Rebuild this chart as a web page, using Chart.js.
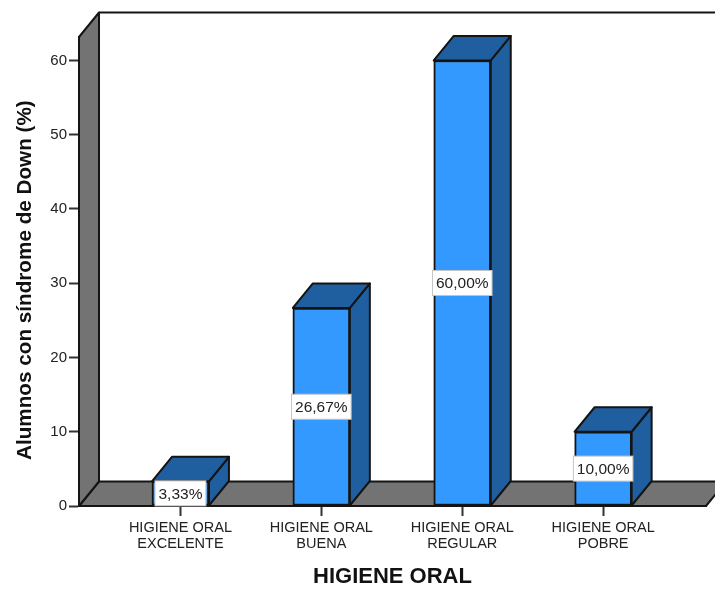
<!DOCTYPE html>
<html>
<head>
<meta charset="utf-8">
<script src="https://cdn.jsdelivr.net/npm/chart.js@4"></script>
<style>
    html, body { margin: 0; padding: 0; background: #fff; }
    canvas { display: block; }
</style>
</head>
<body>
<canvas id="chart" width="715" height="590"></canvas>
<script>
// datos
const categories = [
    ['HIGIENE ORAL', 'EXCELENTE'],
    ['HIGIENE ORAL', 'BUENA'],
    ['HIGIENE ORAL', 'REGULAR'],
    ['HIGIENE ORAL', 'POBRE']
];
const values = [3.33, 26.67, 60, 10];
const valueLabels = ['3,33%', '26,67%', '60,00%', '10,00%'];
const yTicks = [0, 10, 20, 30, 40, 50, 60];

const FONT = '"Liberation Sans", Arial, sans-serif';
const LINE = '#141414';
const DEPTH_X = 20;
const DEPTH_Y = 24.5;

function poly(ctx, pts, fill) {
    ctx.beginPath();
    pts.forEach((p, i) => i ? ctx.lineTo(p[0], p[1]) : ctx.moveTo(p[0], p[1]));
    ctx.closePath();
    ctx.fillStyle = fill;
    ctx.fill();
    ctx.stroke();
}

// paredes y caras laterales de las barras
const box3d = {
    id: 'box3d',
    beforeDatasetsDraw(chart) {
        const { ctx, chartArea: a } = chart;
        ctx.save();
        ctx.strokeStyle = LINE;
        ctx.lineWidth = 2;
        ctx.lineJoin = 'round';

        // suelo y pared izquierda
        poly(ctx, [[a.left, a.bottom], [a.left + DEPTH_X, a.bottom - DEPTH_Y],
                   [a.right + DEPTH_X, a.bottom - DEPTH_Y], [a.right, a.bottom]], '#737373');
        poly(ctx, [[a.left, a.top], [a.left + DEPTH_X, a.top - DEPTH_Y],
                   [a.left + DEPTH_X, a.bottom - DEPTH_Y], [a.left, a.bottom]], '#737373');
        ctx.beginPath();
        ctx.moveTo(a.left + DEPTH_X, a.top - DEPTH_Y);
        ctx.lineTo(715, a.top - DEPTH_Y);
        ctx.stroke();

        // tapa y lateral de cada barra
        chart.getDatasetMeta(0).data.forEach(bar => {
            const half = bar.width / 2;
            const l = bar.x - half, r = bar.x + half;
            poly(ctx, [[r, bar.y], [r + DEPTH_X, bar.y - DEPTH_Y],
                       [r + DEPTH_X, bar.base - DEPTH_Y], [r, bar.base]], '#1f5f9f');
            poly(ctx, [[l, bar.y], [l + DEPTH_X, bar.y - DEPTH_Y],
                       [r + DEPTH_X, bar.y - DEPTH_Y], [r, bar.y]], '#1f5f9f');
        });
        ctx.restore();
    },
    afterDatasetsDraw(chart) {
        const { ctx } = chart;
        ctx.save();
        ctx.font = '15.5px ' + FONT;
        ctx.textAlign = 'center';
        ctx.textBaseline = 'middle';
        chart.getDatasetMeta(0).data.forEach((bar, i) => {
            const w = ctx.measureText(valueLabels[i]).width + 7;
            const cy = (bar.y + bar.base) / 2;
            ctx.fillStyle = '#fff';
            ctx.strokeStyle = '#c4c4c4';
            ctx.lineWidth = 1;
            ctx.fillRect(bar.x - w / 2, cy - 12.5, w, 25);
            ctx.strokeRect(bar.x - w / 2, cy - 12.5, w, 25);
            ctx.fillStyle = '#222';
            ctx.fillText(valueLabels[i], bar.x, cy + 1);
        });
        ctx.restore();
    }
};

new Chart(document.getElementById('chart').getContext('2d'), {
    type: 'bar',
    data: {
        datasets: [{
            data: values.map((v, i) => ({ x: i, y: v })),
            backgroundColor: '#3399ff',
            borderColor: LINE,
            borderWidth: 2,
            borderSkipped: false,
            barThickness: 57
        }]
    },
    options: {
        responsive: false,
        animation: false,
        layout: { padding: { top: 37, right: 9, left: 0, bottom: 0 } },
        plugins: { legend: { display: false }, tooltip: { enabled: false } },
        scales: {
            x: {
                type: 'linear',
                offset: false,
                min: -0.72,
                max: 3.73,
                afterBuildTicks: s => { s.ticks = categories.map((c, i) => ({ value: i })); },
                afterFit: s => { s.height = 84; },
                grid: { offset: false, drawOnChartArea: false, tickLength: 10, tickColor: '#333', tickWidth: 2 },
                border: { color: LINE, width: 2 },
                ticks: {
                    autoSkip: false,
                    maxRotation: 0,
                    padding: 4,
                    color: '#222',
                    font: { family: FONT, size: 14.5, lineHeight: 1.1 },
                    callback: v => categories[v]
                },
                title: {
                    display: true,
                    text: 'HIGIENE ORAL',
                    color: '#111',
                    font: { family: FONT, size: 22, weight: 'bold' },
                    padding: { top: 13, bottom: 0 }
                }
            },
            y: {
                min: 0,
                max: 63.16,
                afterBuildTicks: s => { s.ticks = yTicks.map(v => ({ value: v })); },
                afterFit: s => { s.width = 79; },
                grid: { drawOnChartArea: false, tickLength: 10, tickColor: '#333', tickWidth: 2 },
                border: { color: LINE, width: 2 },
                ticks: {
                    padding: 2,
                    color: '#222',
                    font: { family: FONT, size: 15 }
                },
                title: {
                    display: true,
                    // los espacios finales bajan el título como en el original
                    text: 'Alumnos con síndrome de Down (%)   ',
                    color: '#111',
                    font: { family: FONT, size: 20.7, weight: 'bold' },
                    padding: { top: 13, bottom: 0 }
                }
            }
        }
    },
    plugins: [box3d]
});
</script>
</body>
</html>
